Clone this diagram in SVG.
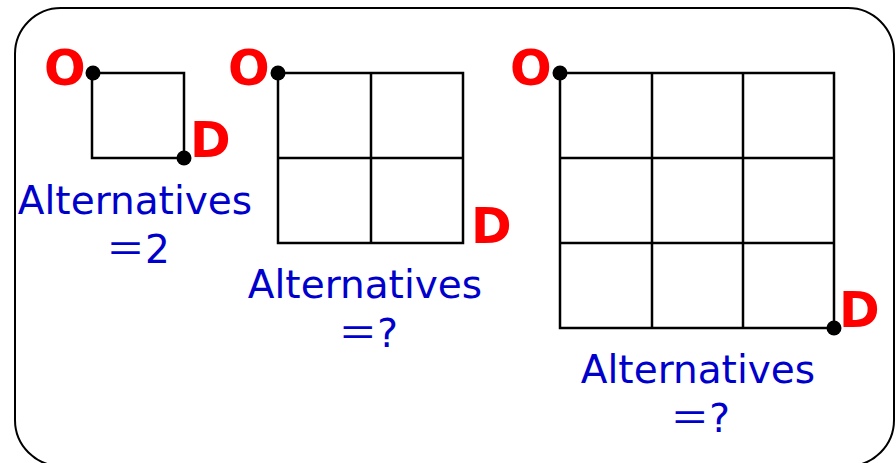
<svg xmlns="http://www.w3.org/2000/svg" width="896" height="463" viewBox="0 0 896 463">
<style>
.frame{fill:#fff;stroke:#000;stroke-width:2}
.grid{fill:none;stroke:#000;stroke-width:2.5;stroke-linecap:square}
.dot{fill:#000}
.od{font-family:"DejaVu Sans",sans-serif;font-weight:bold;font-size:49px;fill:#ff0000}
.lbl{font-family:"DejaVu Sans","Noto Sans CJK JP",sans-serif;font-size:39px;fill:#0000cc;text-anchor:middle}
</style>
<rect class="frame" x="15" y="8" width="879" height="458" rx="46" ry="46"/>
<g id="grid1">
<path class="grid" d="M92,73 H184 V158 H92 Z"/>
<circle class="dot" cx="93" cy="73" r="7.5"/>
<circle class="dot" cx="184" cy="158" r="7.5"/>
<text class="od" x="44" y="85">O</text>
<text class="od" x="190" y="157">D</text>
<text class="lbl" x="135" y="214">Alternatives</text>
<text class="lbl" x="138" y="263">＝2</text>
</g>
<g id="grid2">
<path class="grid" d="M278,73 H463 V243 H278 Z M371,73 V243 M278,158 H463"/>
<circle class="dot" cx="278" cy="73" r="7.5"/>
<text class="od" x="228" y="85">O</text>
<text class="od" x="471" y="243">D</text>
<text class="lbl" x="365" y="298">Alternatives</text>
<text class="lbl" x="368" y="347">＝?</text>
</g>
<g id="grid3">
<path class="grid" d="M560,73 H834 V328 H560 Z M652,73 V328 M743,73 V328 M560,158 H834 M560,243 H834"/>
<circle class="dot" cx="560" cy="73" r="7.5"/>
<circle class="dot" cx="834" cy="328" r="7.5"/>
<text class="od" x="510" y="85">O</text>
<text class="od" x="839" y="327">D</text>
<text class="lbl" x="698" y="383">Alternatives</text>
<text class="lbl" x="700" y="432">＝?</text>
</g>
<g id="connectors"/>
</svg>
